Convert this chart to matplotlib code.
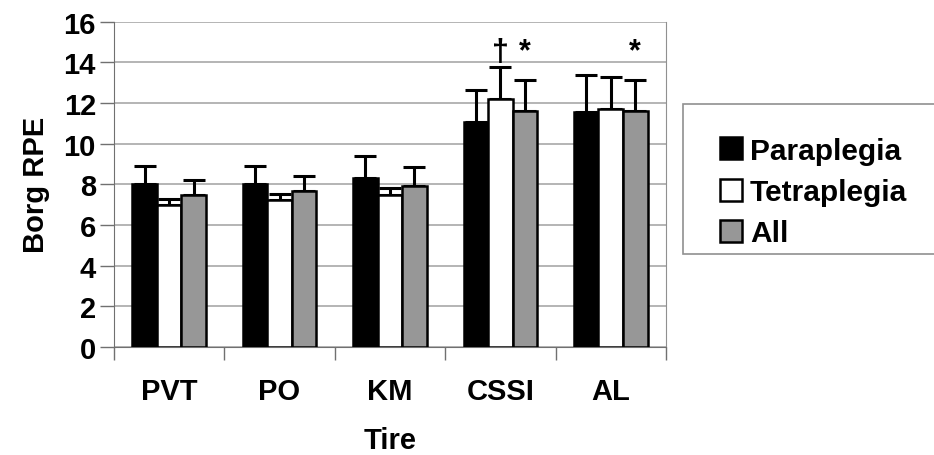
import numpy as np
import matplotlib.pyplot as plt
from matplotlib.patches import Rectangle

plt.rcParams['font.family'] = ['Liberation Sans', 'DejaVu Sans']
plt.rcParams['font.weight'] = 'bold'

tires = ['PVT', 'PO', 'KM', 'CSSI', 'AL']
groups = ['Paraplegia', 'Tetraplegia', 'All']

para = [8.0, 8.0, 8.3, 11.05, 11.55]
tetra = [7.0, 7.25, 7.5, 12.2, 11.7]
all_ = [7.5, 7.65, 7.9, 11.6, 11.6]

para_sd = [0.9, 0.9, 1.1, 1.6, 1.85]
tetra_sd = [0.3, 0.3, 0.3, 1.6, 1.6]
all_sd = [0.7, 0.75, 0.95, 1.55, 1.55]

# significance marks: (tire index, group index, symbol)
marks = [(3, 1, '\u2020'), (3, 2, '*'), (4, 2, '*')]

colors = ['black', 'white', '#979797']

# ============ PLOTTING ============
fig = plt.figure(figsize=(9.34, 4.56), dpi=100)
ax = fig.add_axes([0.122, 0.237, 0.591, 0.713])

x = np.arange(len(tires))
w = 1 / 4.5
means = [para, tetra, all_]
sds = [para_sd, tetra_sd, all_sd]
handles = []
for k in range(3):
    pos = x + (k - 1) * w
    b = ax.bar(pos, means[k], w, color=colors[k], edgecolor='black',
               linewidth=1.8, zorder=3, label=groups[k])
    ax.errorbar(pos, means[k], yerr=[np.zeros(len(tires)), sds[k]], fmt='none',
                ecolor='black', elinewidth=2.2, capsize=8, capthick=2.2, zorder=2)
    handles.append(b)

for i, k, s in marks:
    ax.text(x[i] + (k - 1) * w, 13.8, s, ha='center', va='bottom',
            fontsize=22, fontweight='bold')

ax.set_xlim(-0.5, 4.5)
ax.set_ylim(0, 16)
ax.set_yticks(np.arange(0, 17, 2))
ax.yaxis.grid(True, color='#a8a8a8', linewidth=1.2, zorder=0)
ax.set_axisbelow(True)

ax.set_xticks(x)
ax.set_xticklabels(tires)
ax.set_xticks(np.arange(-0.5, 5, 1), minor=True)
ax.tick_params(axis='x', which='major', length=0, pad=22, labelsize=21)
ax.tick_params(axis='x', which='minor', length=9, width=1, color='#707070')
ax.tick_params(axis='y', length=10, width=1, color='#707070', labelsize=21, pad=3)

for sp in ['left', 'bottom']:
    ax.spines[sp].set_color('#707070')
ax.spines['right'].set_color('#909090')
ax.spines['top'].set_visible(False)

ax.set_xlabel('Tire', fontsize=21, fontweight='bold', labelpad=15)
ax.set_ylabel('Borg RPE', fontsize=21, fontweight='bold', labelpad=10)

fig.patches.append(Rectangle((683 / 934, 1 - 255 / 456), 0.3, 150 / 456,
                             transform=fig.transFigure, facecolor='white',
                             edgecolor='#909090', linewidth=1.2))
fig.legend(handles=handles, labels=groups, loc='center left',
           bbox_to_anchor=(0.758, 1 - 193 / 456), frameon=False,
           fontsize=21.5, handlelength=0.75, handleheight=0.75,
           handletextpad=0.25, labelspacing=0.45, borderaxespad=0)

fig.savefig('out.png', dpi=100)
